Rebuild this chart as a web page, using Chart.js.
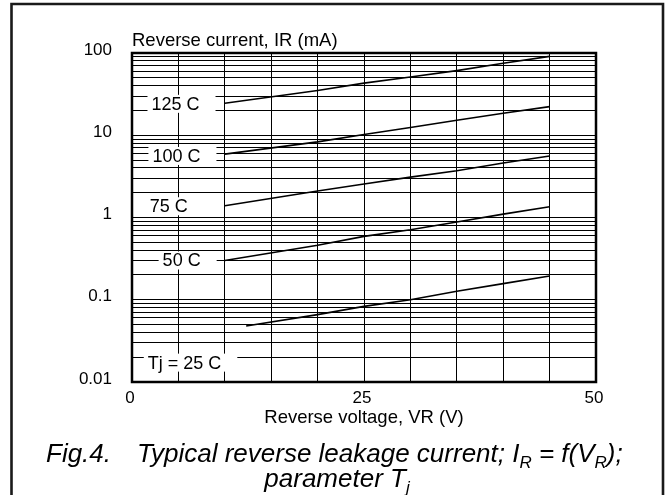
<!DOCTYPE html>
<html>
<head>
<meta charset="utf-8">
<title>Fig.4 Typical reverse leakage current</title>
<script src="https://cdn.jsdelivr.net/npm/chart.js@4/dist/chart.umd.min.js"></script>
<style>
  html, body { margin: 0; padding: 0; background: #fff; }
  canvas { display: block; }
</style>
</head>
<body>
<canvas id="leakChart" width="667" height="495"></canvas>
<script>
// values (V in volts, I in mA)
const v125 = [10, 20, 25, 30, 35, 40, 45];
const i125 = [24.5, 35, 43, 51, 61, 75, 91];
const v100 = [10, 20, 25, 30, 35, 40, 45];
const i100 = [5.9, 8.3, 10.2, 12.4, 15.2, 18.5, 22.3];
const v75 = [10, 20, 25, 30, 35, 40, 45];
const i75 = [1.39, 2.1, 2.55, 3.1, 3.7, 4.6, 5.6];
const v50 = [10, 20, 25, 30, 35, 40, 45];
const i50 = [0.30, 0.46, 0.59, 0.71, 0.88, 1.1, 1.35];
const v25 = [12.3, 20, 25, 30, 35, 40, 45];
const i25 = [0.048, 0.066, 0.083, 0.10, 0.127, 0.157, 0.194];

const curveLabels = ['125 C', '100 C', '75 C', '50 C', 'Tj = 25 C'];
const labelV = [2.1, 2.2, 1.9, 3.3, 1.7];
const labelI = [24.1, 5.6, 1.37, 0.30, 0.0172];

const xTickLabels = { 0: '0', 25: '25', 50: '50' };
const yDecades = [0.01, 0.1, 1, 10, 100];
const yTickLabels = ['0.01', '0.1', '1', '10', '100'];

const FONT = '"Liberation Sans", Arial, sans-serif';

const pts = (xs, ys) => xs.map((x, i) => ({ x, y: ys[i] }));
const line = (xs, ys) => ({
  data: pts(xs, ys),
  showLine: true,
  borderColor: '#000',
  borderWidth: 1.6,
  pointRadius: 0,
  tension: 0
});

// every 1..9 step of each decade gets a grid line
const yGrid = [];
yDecades.slice(0, -1).forEach(d => {
  for (let k = 1; k < 10; k++) yGrid.push(+(d * k).toPrecision(3));
});
yGrid.push(yDecades[yDecades.length - 1]);

const decorations = {
  id: 'decorations',
  beforeDraw(chart) {
    const ctx = chart.ctx;
    ctx.save();
    ctx.fillStyle = '#fff';
    ctx.fillRect(0, 0, chart.width, chart.height);
    ctx.restore();
  },
  afterDatasetsDraw(chart) {
    const { ctx, scales: { x, y } } = chart;
    ctx.save();
    ctx.font = '18px ' + FONT;
    ctx.textBaseline = 'middle';
    curveLabels.forEach((txt, i) => {
      const px = x.getPixelForValue(labelV[i]);
      const py = y.getPixelForValue(labelI[i]);
      const w = ctx.measureText(txt).width;
      ctx.fillStyle = '#fff';
      ctx.fillRect(px - 4, py - 9, w + 20, 18);
      ctx.fillStyle = '#000';
      ctx.fillText(txt, px, py + 1);
    });
    ctx.restore();
  },
  afterDraw(chart) {
    const { ctx, chartArea: a } = chart;
    ctx.save();
    // plot frame
    ctx.strokeStyle = '#000';
    ctx.lineWidth = 2.5;
    ctx.strokeRect(a.left, a.top, a.right - a.left, a.bottom - a.top);

    // outer figure frame (open at the bottom)
    ctx.strokeStyle = '#1a1a1a';
    ctx.lineWidth = 2.6;
    ctx.beginPath();
    ctx.moveTo(11.5, chart.height);
    ctx.lineTo(11.5, 4);
    ctx.lineTo(663, 4);
    ctx.lineTo(663, chart.height);
    ctx.stroke();

    // y axis title, horizontal above the plot
    ctx.fillStyle = '#000';
    ctx.font = '18.5px ' + FONT;
    ctx.textBaseline = 'middle';
    ctx.textAlign = 'left';
    ctx.fillText('Reverse current, IR (mA)', a.left, 41);

    // caption with subscripts
    const big = 'italic 26px ' + FONT;
    const small = 'italic 17px ' + FONT;
    const draw = (parts, x0, base) => {
      let cx = x0;
      parts.forEach(([t, sub]) => {
        ctx.font = sub ? small : big;
        ctx.fillText(t, cx, base + (sub ? 6 : 0));
        cx += ctx.measureText(t).width;
      });
      return cx;
    };
    ctx.textBaseline = 'alphabetic';
    draw([['Fig.4.', false]], 46, 462);
    draw([['Typical reverse leakage current; I', false], ['R', true],
          [' = f(V', false], ['R', true], [');', false]], 137, 462);
    ctx.font = big;
    const w2 = ctx.measureText('parameter T').width;
    ctx.font = small;
    const wj = ctx.measureText('j').width;
    draw([['parameter T', false], ['j', true]], 337 - (w2 + wj) / 2, 487);
    ctx.restore();
  }
};

new Chart(document.getElementById('leakChart'), {
  type: 'scatter',
  data: {
    datasets: [line(v125, i125), line(v100, i100), line(v75, i75), line(v50, i50), line(v25, i25)]
  },
  options: {
    responsive: false,
    animation: false,
    events: [],
    layout: { padding: { top: 53, right: 71, left: 0, bottom: 0 } },
    plugins: { legend: { display: false }, tooltip: { enabled: false } },
    scales: {
      x: {
        type: 'linear',
        min: 0,
        max: 50,
        afterFit: s => { s.height = 113; },
        ticks: {
          stepSize: 5,
          autoSkip: false,
          maxRotation: 0,
          padding: 6,
          labelOffset: -2,
          color: '#000',
          font: { family: FONT, size: 17 },
          callback: v => xTickLabels[v] ?? ''
        },
        grid: { color: '#000', lineWidth: 1, drawTicks: false },
        border: { display: false },
        title: {
          display: true,
          text: 'Reverse voltage, VR (V)',
          color: '#000',
          font: { family: FONT, size: 18.5 },
          padding: { top: 0, bottom: 66 }
        }
      },
      y: {
        type: 'logarithmic',
        min: 0.01,
        max: 100,
        afterFit: s => { s.width = 132; },
        afterBuildTicks: s => { s.ticks = yGrid.map(v => ({ value: v })); },
        ticks: {
          autoSkip: false,
          padding: 20,
          labelOffset: -3,
          color: '#000',
          font: { family: FONT, size: 17 },
          callback: v => {
            const i = yDecades.findIndex(d => Math.abs(v / d - 1) < 1e-6);
            return i >= 0 ? yTickLabels[i] : '';
          }
        },
        grid: { color: '#000', lineWidth: 1, drawTicks: false },
        border: { display: false }
      }
    }
  },
  plugins: [decorations]
});
</script>
</body>
</html>
